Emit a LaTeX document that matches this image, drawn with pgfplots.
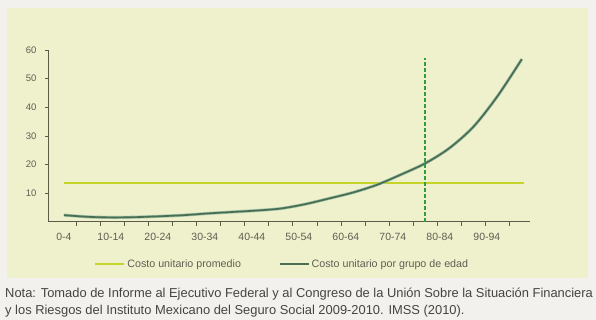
\documentclass[border=0pt]{standalone}
\usepackage{fontspec}
\setmainfont{Liberation Sans}
\usepackage{pgfplots}
\pgfplotsset{compat=1.18}
\definecolor{page}{HTML}{F2F1EE}
\definecolor{panel}{HTML}{EFF1CD}
\definecolor{promedio}{HTML}{C5D42A}
\definecolor{edad}{HTML}{4A6E52}
\definecolor{halo}{HTML}{9DBFA8}
\definecolor{corte}{HTML}{30A03C}
\definecolor{eje}{HTML}{5A5C48}
\definecolor{texto}{HTML}{5E5E52}
\definecolor{nota}{HTML}{454540}

% unit cost by five-year age group, 0-4 ... 95-99
\pgfplotstableread{
idx costo
0  2.4
1  1.8
2  1.6
3  1.7
4  2.0
5  2.4
6  3.0
7  3.5
8  4.0
9  4.7
10 6.2
11 8.2
12 10.3
13 13.0
14 16.6
15 20.5
16 25.8
17 33.3
18 44.0
19 56.8
}\costos

\begin{document}
\begin{tikzpicture}[x=1pt,y=1pt]
\useasboundingbox (0,0) rectangle (596,320);
\fill[page] (0,0) rectangle (596,320);
\fill[panel] (7,42) rectangle (588,312);
\begin{axis}[
  at={(48pt,98pt)}, anchor=south west,
  scale only axis, width=482pt, height=172pt,
  xmin=-0.66, xmax=19.34, ymin=0, ymax=60,
  axis x line*=bottom, axis y line*=left,
  axis line style={eje, line width=1pt},
  tick align=outside,
  ytick={10,20,30,40,50,60},
  xtick={0,1.95,3.9,5.85,7.8,9.75,11.7,13.65,15.6,17.55},
  xticklabels={0-4,10-14,20-24,30-34,40-44,50-54,60-64,70-74,80-84,90-94},
  major x tick style={draw=none},
  minor xtick={0.5,1.5,...,18.5},
  minor x tick style={eje, line width=0.8pt},
  minor tick length=4pt,
  major y tick style={eje, line width=0.8pt},
  major tick length=3pt,
  tick label style={text=texto},
  xticklabel style={font=\fontsize{10.5}{12}\selectfont, yshift=-5pt},
  yticklabel style={font=\fontsize{9.5}{11}\selectfont, xshift=-5pt},
  /pgf/number format/assume math mode=true,
  clip=false,
  legend columns=2,
  legend style={at={(0.09,-0.245)}, anchor=west, draw=none, fill=none,
    font=\fontsize{10.7}{12}\selectfont, text=texto,
    /tikz/every even column/.append style={column sep=36pt}},
  legend image code/.code={\draw[#1] (0pt,0pt) -- (29pt,0pt);},
]
\addplot[promedio, line width=1.8pt] coordinates {(0,13.5) (19.1,13.5)};
\addlegendentry{Costo unitario promedio}
\addplot[halo, line width=3pt, smooth, forget plot] table[x=idx, y=costo] {\costos};
\addplot[edad, line width=1.7pt, smooth] table[x=idx, y=costo] {\costos};
\addlegendentry{Costo unitario por grupo de edad}
% age 75-79 marker line
\addplot[color=corte, line width=2pt, line cap=butt, dash pattern=on 4pt off 2pt, forget plot] coordinates {(15,0) (15,57.2)};
\end{axis}
\node[anchor=west, text=nota, font=\fontsize{12.9}{14}\selectfont, inner sep=0pt] at (5,26) {Nota: Tomado de Informe al Ejecutivo Federal y al Congreso de la Unión Sobre la Situación Financiera};
\node[anchor=west, text=nota, font=\fontsize{12.9}{14}\selectfont, inner sep=0pt] at (5,9) {y los Riesgos del Instituto Mexicano del Seguro Social 2009-2010. IMSS (2010).};
\end{tikzpicture}
\end{document}
